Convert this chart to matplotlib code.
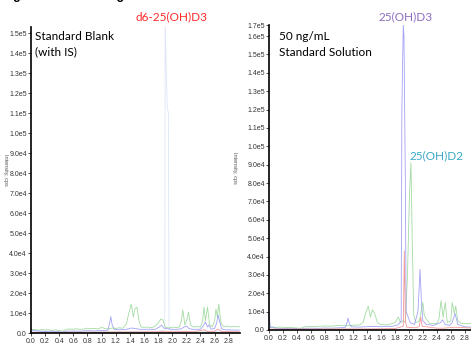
import numpy as np
import matplotlib
matplotlib.use("Agg")
import matplotlib.pyplot as plt

# ---- data (time in min, intensity in cps) ----
# Standard blank (with IS)
blank_green_t = [0.00, 0.05, 0.10, 0.15, 0.20, 0.25, 0.30, 0.35, 0.40, 0.45, 0.50, 0.55, 0.60, 0.65,
                 0.70, 0.75, 0.80, 0.85, 0.90, 0.95, 1.00, 1.05, 1.10, 1.15, 1.20, 1.25, 1.30, 1.35,
                 1.38, 1.42, 1.45, 1.47, 1.50, 1.53, 1.56, 1.60, 1.65, 1.70, 1.75, 1.80, 1.84, 1.87,
                 1.90, 1.95, 2.00, 2.05, 2.10, 2.13, 2.15, 2.18, 2.21, 2.23, 2.26, 2.30, 2.35, 2.40,
                 2.43, 2.45, 2.47, 2.50, 2.53, 2.57, 2.60, 2.62, 2.64, 2.66, 2.69, 2.73, 2.78, 2.83,
                 2.88, 2.95]
blank_green_v = [1500, 1800, 1400, 1700, 1500, 1600, 1300, 1600, 1200, 900, 1800, 2000, 1900, 2100,
                 1800, 2000, 2400, 2100, 2300, 2000, 2800, 2200, 2000, 2500, 2300, 2600, 2400, 4500,
                 9000, 14500, 8000, 12000, 13000, 6000, 3000, 2800, 3000, 2600, 3200, 5000, 7000, 6500,
                 3000, 2500, 3000, 2700, 3000, 6000, 11500, 4000, 7000, 10500, 4000, 3000, 3200, 3000,
                 6000, 13000, 6000, 13000, 4000, 3200, 6000, 12000, 8000, 14500, 5000, 3200, 3500, 3000,
                 3300, 3100]

blank_blue_t = [0.00, 0.02, 0.10, 0.20, 0.30, 0.40, 0.45, 0.50, 0.60, 0.70, 0.80, 0.90, 1.00, 1.05,
                1.09, 1.12, 1.13, 1.15, 1.18, 1.25, 1.35, 1.42, 1.48, 1.55, 1.65, 1.75, 1.82, 1.85,
                1.88, 1.95, 2.05, 2.12, 2.17, 2.20, 2.24, 2.30, 2.40, 2.44, 2.47, 2.50, 2.52, 2.55,
                2.60, 2.63, 2.65, 2.67, 2.70, 2.75, 2.85, 2.95]
blank_blue_v = [2500, 1200, 1000, 800, 900, 600, 400, 900, 1000, 900, 1200, 1000, 1300, 1100,
                1500, 6000, 8200, 4000, 1800, 1600, 1800, 2500, 2200, 1800, 1900, 1800, 3000, 4000,
                2500, 2000, 1800, 2000, 3000, 3500, 2200, 1800, 1900, 3500, 5500, 3000, 4000, 2000,
                2200, 5000, 9000, 6000, 2000, 1600, 1500, 1400]

blank_red_t = [0.0, 0.3, 0.6, 0.9, 1.2, 1.5, 1.8, 1.9, 2.0, 2.2, 2.3, 2.45, 2.5, 2.6, 2.65, 2.7, 2.95]
blank_red_v = [300, 300, 400, 400, 500, 500, 600, 900, 600, 800, 600, 1600, 800, 900, 2000, 800, 600]

blank_is_t = [0.0, 0.5, 1.0, 1.5, 1.85, 1.895, 1.90, 1.915, 1.93, 1.945, 1.955, 2.0, 2.5, 2.95]
blank_is_v = [500, 500, 600, 800, 1000, 1500, 160000, 130000, 113000, 110000, 2000, 1000, 800, 600]

# 50 ng/mL standard solution
std_green_t = [0.00, 0.05, 0.10, 0.15, 0.20, 0.25, 0.30, 0.35, 0.40, 0.45, 0.50, 0.60, 0.70, 0.80,
               0.90, 1.00, 1.10, 1.20, 1.30, 1.35, 1.38, 1.42, 1.45, 1.48, 1.51, 1.55, 1.60, 1.70,
               1.80, 1.85, 1.88, 1.92, 1.95, 1.98, 2.01, 2.03, 2.05, 2.07, 2.10, 2.15, 2.20, 2.22,
               2.25, 2.30, 2.40, 2.43, 2.46, 2.49, 2.52, 2.55, 2.60, 2.62, 2.65, 2.67, 2.70, 2.75,
               2.85, 2.95]
std_green_v = [1500, 1700, 1400, 1600, 1500, 1300, 1500, 1200, 1100, 900, 1700, 1900, 2000, 2200,
               2100, 2500, 2300, 2600, 2800, 4500, 9000, 13000, 7000, 11000, 9000, 4000, 3000, 2800,
               4000, 7000, 4000, 5000, 4000, 30000, 75000, 91000, 45000, 8000, 4000, 5000, 15000, 8000,
               6000, 3500, 3500, 6000, 16000, 7000, 15000, 4000, 5000, 15000, 9000, 13000, 5000, 3500,
               3400, 3500]

std_blue_t = [0.00, 0.02, 0.10, 0.20, 0.30, 0.40, 0.45, 0.50, 0.60, 0.70, 0.80, 0.90, 1.00, 1.09,
              1.12, 1.13, 1.15, 1.18, 1.30, 1.45, 1.60, 1.75, 1.82, 1.85, 1.89, 1.90, 1.92, 1.93,
              1.95, 1.96, 1.98, 2.02, 2.08, 2.13, 2.16, 2.18, 2.20, 2.25, 2.35, 2.45, 2.48, 2.52,
              2.58, 2.62, 2.66, 2.70, 2.80, 2.95]
std_blue_v = [9000, 1500, 1000, 800, 900, 700, 500, 900, 1000, 900, 1100, 1000, 1200, 1400,
              4500, 6500, 3500, 1700, 1600, 1900, 1800, 1900, 2500, 3000, 5000, 120000, 166000, 160000,
              80000, 10000, 8000, 4000, 3000, 10000, 33000, 15000, 5000, 3000, 2500, 4000, 5500, 3000,
              2500, 4000, 9000, 3000, 1700, 1500]

std_red_t = [0.0, 0.5, 1.0, 1.5, 1.8, 1.92, 1.935, 1.95, 1.97, 2.1, 2.15, 2.17, 2.19, 2.4, 2.5, 2.65, 2.95]
std_red_v = [500, 500, 600, 600, 800, 2000, 43000, 5000, 1500, 1200, 2000, 7000, 2000, 1000, 1000, 1500, 1000]

yticks_blank = [i * 1e4 for i in range(16)]
yticks_std = [i * 1e4 for i in range(17)] + [1.66e5]
xticks = [round(0.2 * i, 1) for i in range(15)]


def sci(v):
    if v == 0:
        return "0.0"
    e = int(np.floor(np.log10(v)))
    return f"{v / 10**e:.1f}e{e}"


plt.rcParams["font.family"] = ["Liberation Sans", "DejaVu Sans"]

fig = plt.figure(figsize=(4.71, 3.44), dpi=100)

# clipped header text
fig.text(0.004, 1.0 + 1.0 / 344, "Figure 2. Chromatograms of Blank and Standard Solution",
         fontsize=9, fontweight="bold", ha="left", va="baseline", color="black")

ax1 = fig.add_axes([31 / 471, 11 / 344, 209 / 471, 306 / 344])
ax2 = fig.add_axes([269 / 471, 14 / 344, 207 / 471, 305 / 344])

green = "#a3dba3"
blue = "#8c8cf4"
red = "#f39a9a"
pale = "#dde6f6"
lw = 0.6

ax1.plot(blank_is_t, blank_is_v, color=pale, lw=lw)
ax1.plot(blank_green_t, blank_green_v, color=green, lw=lw)
ax1.plot(blank_blue_t, blank_blue_v, color=blue, lw=lw, alpha=0.8)
ax1.plot(blank_red_t, blank_red_v, color=red, lw=lw)

ax2.plot(std_green_t, std_green_v, color=green, lw=lw)
ax2.plot(std_blue_t, std_blue_v, color=blue, lw=lw, alpha=0.8)
ax2.plot(std_red_t, std_red_v, color=red, lw=lw)

ax1.set_ylim(0, 1.53e5)
ax2.set_ylim(0, 1.66e5)

for ax, yt in ((ax1, yticks_blank), (ax2, yticks_std)):
    ax.set_xlim(0, 2.96)
    ax.set_xticks(xticks)
    ax.set_xticklabels([f"{x:.1f}" for x in xticks])
    ax.set_yticks(yt)
    ax.set_yticklabels([sci(v) for v in yt])
    ax.tick_params(axis="both", labelsize=5, length=2, width=0.6, pad=1, colors="#333333")
    ax.tick_params(axis="x", pad=1.5)
    for s in ("top", "right"):
        ax.spines[s].set_visible(False)
    for s in ("left", "bottom"):
        ax.spines[s].set_linewidth(1.2)
    ax.set_facecolor("none")

# axis titles (small, partly hidden like the source)
fig.text(5 / 471, 1 - 170 / 344, "Intensity, cps", rotation=270, fontsize=4,
         color="#555555", ha="center", va="center")
fig.text(235 / 471, 1 - 168 / 344, "Intensity, cps", rotation=270, fontsize=4,
         color="#555555", ha="center", va="center")
fig.text(186 / 471, 1.0 / 344, "Time, min", fontsize=4.5, color="#555555", ha="center", va="top")
fig.text(422 / 471, 1.0 / 344, "Time, min", fontsize=4.5, color="#555555", ha="center", va="top")

# annotations
fs = 8.5
fam = ["Lato", "DejaVu Sans"]
fig.text(35 / 471, 1 - 36 / 344, "Standard Blank", fontsize=fs, ha="left", va="center", family=fam)
fig.text(35 / 471, 1 - 52 / 344, "(with IS)", fontsize=fs, ha="left", va="center", family=fam)
fig.text(279 / 471, 1 - 37 / 344, "50 ng/mL", fontsize=fs, ha="left", va="center", family=fam)
fig.text(279 / 471, 1 - 53 / 344, "Standard Solution", fontsize=fs, ha="left", va="center", family=fam)

fig.text(171 / 471, 1 - 17 / 344, "d6-25(OH)D3", fontsize=8.5, color="#ff2a2a",
         ha="center", va="center", family=fam)
fig.text(406 / 471, 1 - 17 / 344, "25(OH)D3", fontsize=8.5, color="#8c6cc0",
         ha="center", va="center", family=fam)
fig.text(436 / 471, 1 - 156 / 344, "25(OH)D2", fontsize=8.5, color="#3aa9c8",
         ha="center", va="center", family=fam)

fig.savefig("out.png", dpi=100)
